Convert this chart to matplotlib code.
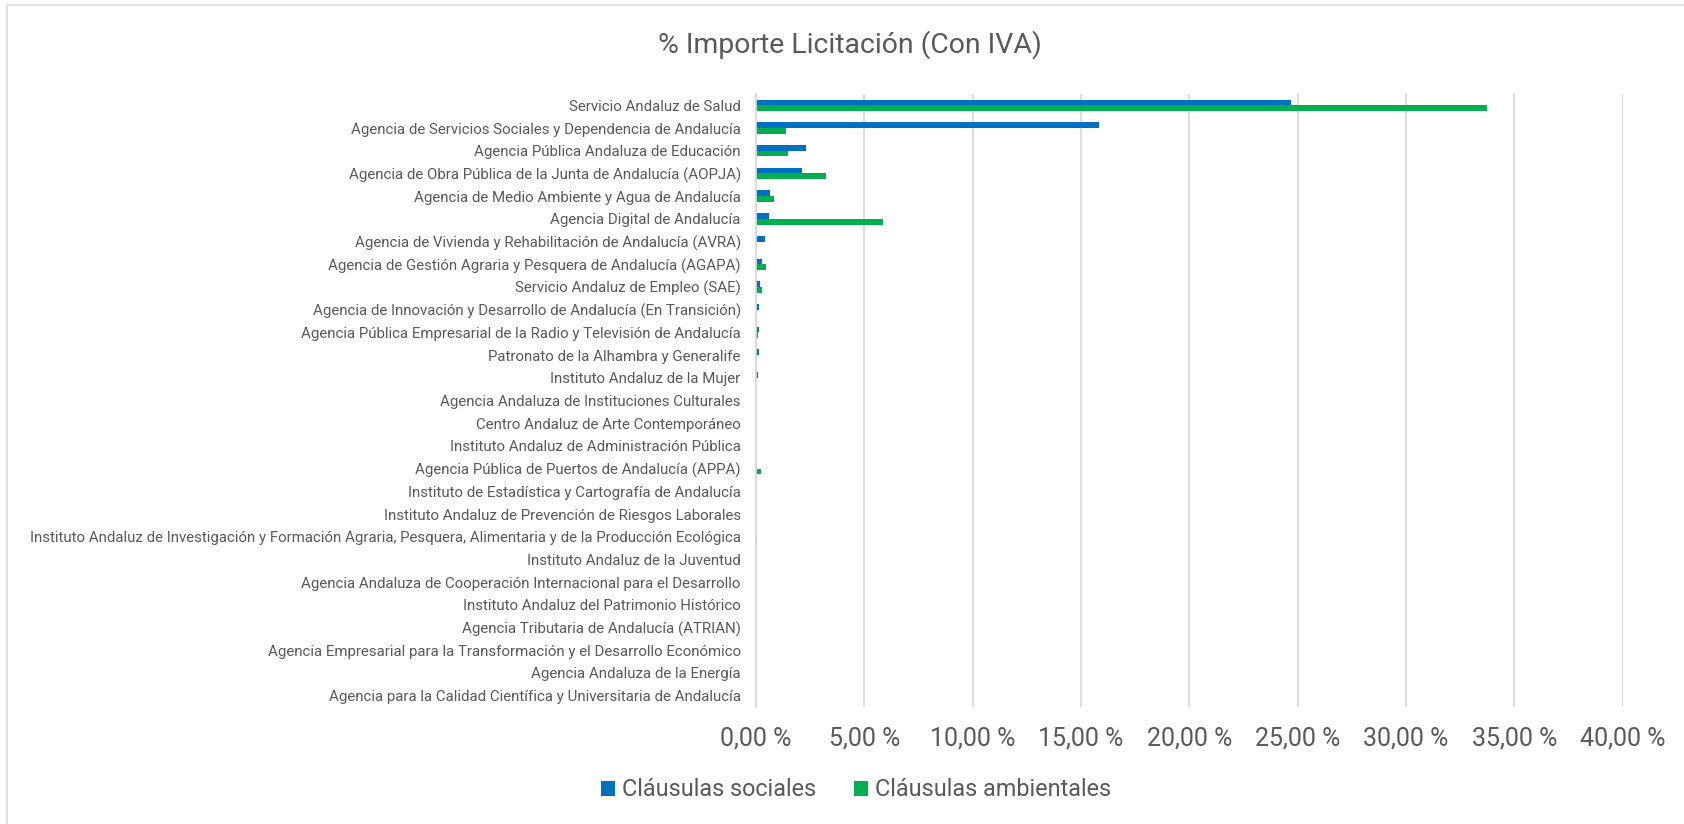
import numpy as np
import matplotlib
matplotlib.use("Agg")
import matplotlib.pyplot as plt
from matplotlib import font_manager
from matplotlib.ticker import FuncFormatter
from matplotlib.patches import Rectangle

entidades = [
    "Servicio Andaluz de Salud",
    "Agencia de Servicios Sociales y Dependencia de Andalucía",
    "Agencia Pública Andaluza de Educación",
    "Agencia de Obra Pública de la Junta de Andalucía (AOPJA)",
    "Agencia de Medio Ambiente y Agua de Andalucía",
    "Agencia Digital de Andalucía",
    "Agencia de Vivienda y Rehabilitación de Andalucía (AVRA)",
    "Agencia de Gestión Agraria y Pesquera de Andalucía (AGAPA)",
    "Servicio Andaluz de Empleo (SAE)",
    "Agencia de Innovación y Desarrollo de Andalucía (En Transición)",
    "Agencia Pública Empresarial de la Radio y Televisión de Andalucía",
    "Patronato de la Alhambra y Generalife",
    "Instituto Andaluz de la Mujer",
    "Agencia Andaluza de Instituciones Culturales",
    "Centro Andaluz de Arte Contemporáneo",
    "Instituto Andaluz de Administración Pública",
    "Agencia Pública de Puertos de Andalucía (APPA)",
    "Instituto de Estadística y Cartografía de Andalucía",
    "Instituto Andaluz de Prevención de Riesgos Laborales",
    "Instituto Andaluz de Investigación y Formación Agraria, Pesquera, Alimentaria y de la Producción Ecológica",
    "Instituto Andaluz de la Juventud",
    "Agencia Andaluza de Cooperación Internacional para el Desarrollo",
    "Instituto Andaluz del Patrimonio Histórico",
    "Agencia Tributaria de Andalucía (ATRIAN)",
    "Agencia Empresarial para la Transformación y el Desarrollo Económico",
    "Agencia Andaluza de la Energía",
    "Agencia para la Calidad Científica y Universitaria de Andalucía",
]

# % importe licitacion (con IVA)
sociales = [24.69, 15.82, 2.29, 2.14, 0.63, 0.58, 0.40, 0.28, 0.20, 0.14,
            0.14, 0.12, 0.10, 0.02, 0.0, 0.0, 0.0, 0.0, 0.0, 0.0,
            0.0, 0.0, 0.0, 0.0, 0.0, 0.0, 0.0]
ambientales = [33.73, 1.39, 1.49, 3.23, 0.82, 5.86, 0.0, 0.46, 0.29, 0.0,
               0.09, 0.04, 0.0, 0.0, 0.0, 0.0, 0.23, 0.0, 0.0, 0.05,
               0.0, 0.0, 0.0, 0.0, 0.0, 0.0, 0.0]

gris = "#595959"
azul = "#0070C0"
verde = "#00B050"

disponibles = {f.name for f in font_manager.fontManager.ttflist}
if "Liberation Sans Narrow" in disponibles:
    fuente_cat, tam_cat = "Liberation Sans Narrow", 13.2
else:
    fuente_cat, tam_cat = "Roboto", 10.8
fuente = "Roboto"

W, H = 1684, 824
fig = plt.figure(figsize=(W / 100, H / 100), dpi=100)
ax = fig.add_axes([756 / W, 1 - 707 / H, (1622.7 - 756) / W, (707 - 94) / H])

y = np.arange(len(entidades))
h = 0.25
ax.barh(y - h / 2, sociales, height=h, color=azul, label="Cláusulas sociales")
ax.barh(y + h / 2, ambientales, height=h, color=verde, label="Cláusulas ambientales")

ax.set_xlim(0, 40)
ax.set_ylim(len(entidades) - 0.5, -0.5)
ax.set_xticks(np.arange(0, 41, 5))
ax.xaxis.set_major_formatter(FuncFormatter(lambda v, p: f"{v:.2f}".replace(".", ",") + " %"))
ax.set_yticks(y)
ax.set_yticklabels(entidades, fontfamily=fuente_cat, fontsize=tam_cat, color=gris)
for lab in ax.get_xticklabels():
    lab.set_fontfamily(fuente)
    lab.set_fontsize(18)
    lab.set_color(gris)
ax.tick_params(axis="x", length=0, pad=14)
ax.tick_params(axis="y", length=0, pad=11)

ax.grid(axis="x", color="#d9d9d9", linewidth=1.3)
ax.set_axisbelow(True)
for s in ["top", "right", "bottom"]:
    ax.spines[s].set_visible(False)
ax.spines["left"].set_color("#d9d9d9")
ax.spines["left"].set_linewidth(1.3)

fig.text(850 / W, 1 - 45 / H, "% Importe Licitación (Con IVA)", ha="center", va="center",
         fontfamily=fuente, fontsize=20.4, color=gris)

fig.legend(loc="center", bbox_to_anchor=(856 / W, 1 - 790 / H), ncol=2, frameon=False,
           prop={"family": fuente, "size": 16.8}, labelcolor=gris,
           handlelength=0.6, handleheight=0.6, handletextpad=0.3, columnspacing=1.6)

fig.patches.append(Rectangle((7 / W, -0.1), 1.2, 1 - 5 / H + 0.1, transform=fig.transFigure,
                             fill=False, edgecolor="#d9d9d9", linewidth=1.2))

fig.savefig("out.png", dpi=100)
